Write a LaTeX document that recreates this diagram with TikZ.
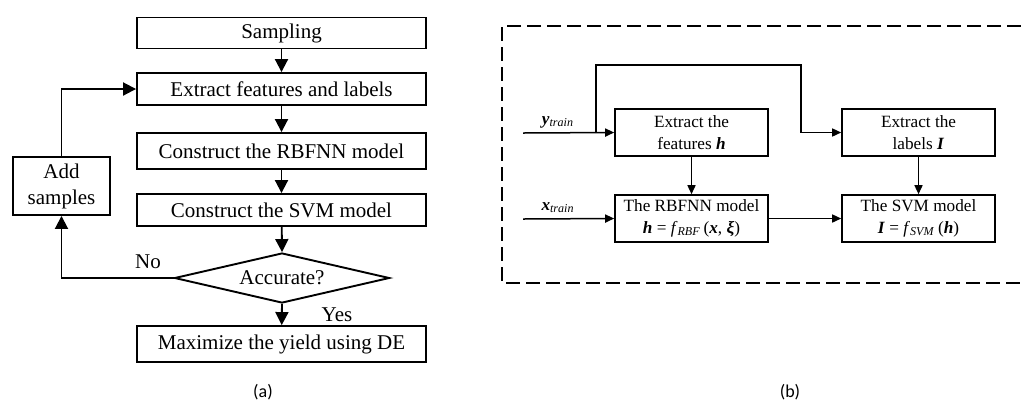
\documentclass[tikz,border=0pt]{standalone}
\usepackage{fontspec}
\setmainfont{Liberation Serif}
\newfontfamily\capfont{Carlito}
\usetikzlibrary{arrows.meta,shapes.geometric}

\newcommand{\bi}[1]{\textbf{\textit{#1}}}

\begin{document}
\begin{tikzpicture}[x=0.5pt,y=-0.5pt,
  flowbox/.style={draw,line width=0.95pt,rectangle,minimum width=144.5pt,
    inner sep=0pt,align=center,font=\fontsize{10.5}{13}\selectfont},
  decbox/.style={draw,line width=0.95pt,diamond,shape aspect=4.3,
    minimum width=107.5pt,minimum height=25pt,inner sep=0pt,
    font=\fontsize{10.5}{13}\selectfont},
  arrA/.style={draw,line width=0.95pt,-{Triangle[length=6.5pt,width=6.5pt]}},
  lblA/.style={font=\fontsize{10.5}{13}\selectfont},
  modbox/.style={draw,line width=0.8pt,rectangle,minimum width=76.5pt,
    minimum height=23.5pt,inner sep=0pt,align=center,
    font=\fontsize{8.6}{11}\selectfont},
  arrB/.style={draw,line width=0.75pt,-{Triangle[length=4.5pt,width=4pt]}},
  lblB/.style={font=\fontsize{8.6}{11}\selectfont},
  caption/.style={font=\capfont\fontsize{9}{11}\selectfont}]

\useasboundingbox (0,0) rectangle (1021,403);

% ---------- (a) flow of the method ----------
\node[flowbox,minimum height=15.5pt] (samp)  at (281.5,33)  {Sampling};
\node[flowbox,minimum height=16pt]   (feat)  at (281.5,89)  {Extract features and labels};
\node[flowbox,minimum height=18pt]   (rbf)   at (281.5,151) {Construct the RBFNN model};
\node[flowbox,minimum height=16pt]   (svm)   at (281.5,210) {Construct the SVM model};
\node[decbox]                        (acc)   at (282,278)   {Accurate?};
\node[flowbox,minimum height=18pt]   (maxde) at (281.5,344) {Maximize the yield using DE};
\node[flowbox,minimum width=48.5pt,minimum height=29pt] (add) at (61.5,186) {Add\\samples};

\draw[arrA] (samp) -- (feat);
\draw[arrA] (feat) -- (rbf);
\draw[arrA] (rbf) -- (svm);
\draw[arrA] (svm) -- (acc.north);
\draw[arrA] (acc.south) -- (maxde);
\draw[arrA] (acc.west) -| (add.south);
\draw[arrA] (add.north) |- (feat.west);

\node[lblA] (no)  at (148,262) {No};
\node[lblA] (yes) at (337,315) {Yes};

\node[caption] (capa) at (263,392) {(a)};

% ---------- (b) training of the two models ----------
\draw[line width=1pt,dash pattern=on 7pt off 3pt]
  (1021,26) -- (502,26) -- (502,283) -- (1021,283);

\node[modbox] (feath) at (691.5,132.5) {Extract the\\features \bi{h}};
\node[modbox] (rbfm)  at (691.5,218.5) {The RBFNN model\\\bi{h} = \textit{f}\textsubscript{\textit{RBF}}\,(\bi{x}, \bi{ξ})};
\node[modbox] (labl)  at (918.5,132.5) {Extract the\\labels \bi{I}};
\node[modbox] (svmm)  at (918.5,218.5) {The SVM model\\\bi{I} = \textit{f}\textsubscript{\textit{SVM}}\,(\bi{h})};

\coordinate (yin)    at (523,133);
\coordinate (xin)    at (523,219);
\coordinate (branch) at (596,133);
\coordinate (ytop)   at (596,65);
\coordinate (ltop)   at (801,65);

\draw[arrB] (yin) -- (feath.west);
\draw[arrB] (branch) -- (ytop) -- (ltop) |- (labl.west);
\draw[arrB] (xin) -- (rbfm.west);
\draw[arrB] (feath) -- (rbfm);
\draw[arrB] (labl) -- (svmm);
\draw[arrB] (rbfm) -- (svmm);

\node[lblB] (ylab) at (558,122) {\bi{y}\textsubscript{\textit{train}}};
\node[lblB] (xlab) at (558,208) {\bi{x}\textsubscript{\textit{train}}};

\node[caption] (capb) at (790,392) {(b)};
\end{tikzpicture}
\end{document}
